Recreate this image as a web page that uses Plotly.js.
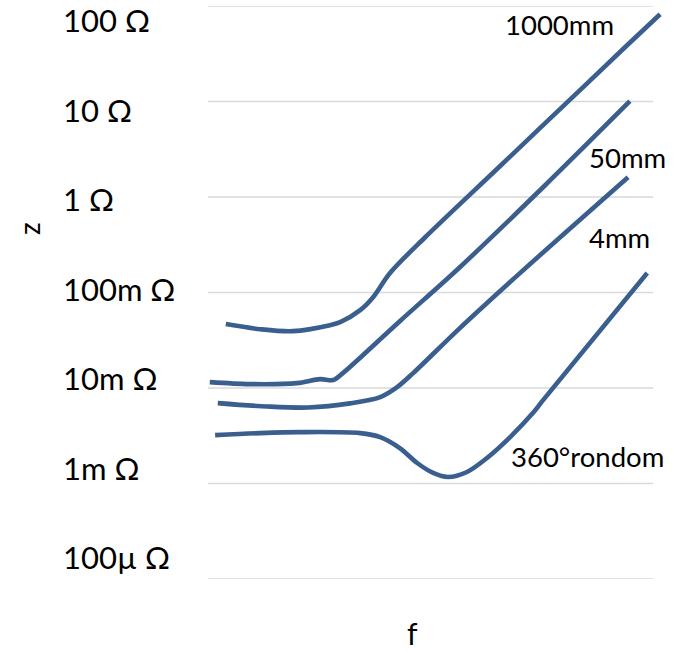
<!DOCTYPE html>
<html>
<head>
<meta charset="utf-8">
<script src="https://cdn.plot.ly/plotly-3.0.1.min.js"></script>
<style>html,body{margin:0;padding:0;background:#fff;}#chart{width:679px;height:654px;}</style>
</head>
<body>
<div id="chart"></div>
<script>
// Frequency (arbitrary units, axis has no ticks) and impedance in ohms
const f1000 = [4.0, 11.7, 19.1, 27.4, 29.7, 34.2, 37.1, 40.9, 48.8, 65.6, 85.2, 93.7, 101.6];
const z1000 = [0.0467, 0.0413, 0.0394, 0.0455, 0.0489, 0.0653, 0.0893, 0.160, 0.379, 2.10, 15.5, 37.0, 81.9];

const f50 = [0.4, 9.4, 20.0, 25.2, 28.1, 30.3, 43.1, 56.6, 75.7, 94.8];
const z50 = [0.01153, 0.01099, 0.01125, 0.01239, 0.01211, 0.01432, 0.0501, 0.184, 1.32, 10.07];

const f4 = [2.2, 13.3, 22.5, 31.9, 38.7, 42.5, 46.1, 56.6, 70.1, 94.4];
const z4 = [0.00695, 0.00640, 0.00625, 0.00690, 0.00803, 0.01021, 0.01432, 0.0424, 0.1595, 1.61];

const f360 = [1.6, 11.7, 20.7, 34.2, 38.7, 43.1, 47.0, 50.6, 53.9, 58.2, 62.7, 67.9, 73.0, 75.3, 98.7];
const z360 = [0.00321, 0.00337, 0.00345, 0.00337, 0.00306, 0.00235, 0.00164, 0.00129, 0.00117, 0.00132, 0.00185, 0.00306, 0.00546, 0.00746, 0.160];

const seriesNames = ["1000mm", "50mm", "4mm", "360°rondom"];
const tickVals = [100, 10, 1, 0.1, 0.01, 0.001, 0.0001];
const tickLabels = ["100 Ω", "10 Ω", "1 Ω", "100m Ω", "10m Ω", "1m Ω", "100µ Ω"];

const lineColor = '#3a5f8f';
const FONT = 'Lato, Carlito, "Open Sans", sans-serif';

function tr(x, y, name) {
  return {x: x, y: y, name: name, type: 'scatter', mode: 'lines',
    line: {color: lineColor, width: 4.6, shape: 'spline', smoothing: 0.9},
    hoverinfo: 'skip'};
}
const data = [
  tr(f1000, z1000, seriesNames[0]),
  tr(f50, z50, seriesNames[1]),
  tr(f4, z4, seriesNames[2]),
  tr(f360, z360, seriesNames[3])
];

const gridEnd = (653 - 208) / 457;
const shapes = tickVals.map(v => ({
  type: 'line', xref: 'paper', yref: 'y', x0: 0, x1: gridEnd, y0: v, y1: v,
  line: {color: '#d9d9d9', width: 1.5}, layer: 'below'
}));

const annotations = [];
tickLabels.forEach((t, i) => {
  annotations.push({text: t, xref: 'paper', yref: 'paper', x: (61 - 208) / 457,
    y: (579 - (20 + i * 89.5)) / 573, xanchor: 'left', yanchor: 'middle',
    showarrow: false, font: {family: FONT, size: 31, color: '#000'}});
});
const labelPos = [[503, 24], [587, 157], [587, 237], [509, 456]];
seriesNames.forEach((n, i) => {
  annotations.push({text: n, xref: 'paper', yref: 'paper',
    x: (labelPos[i][0] - 208) / 457, y: (579 - labelPos[i][1]) / 573,
    xanchor: 'left', yanchor: 'middle', showarrow: false,
    font: {family: FONT, size: 27.5, color: '#000'}});
});
annotations.push({text: 'z', xref: 'paper', yref: 'paper', x: (29 - 208) / 457,
  y: (579 - 229) / 573, xanchor: 'center', yanchor: 'middle', textangle: -90,
  showarrow: false, font: {family: FONT, size: 28, color: '#000'}});
annotations.push({text: 'f', xref: 'paper', yref: 'paper', x: (412 - 208) / 457,
  y: (579 - 653) / 573, xanchor: 'center', yanchor: 'bottom',
  showarrow: false, font: {family: FONT, size: 30, color: '#000'}});

const layout = {
  width: 679, height: 654,
  margin: {l: 208, r: 14, t: 6, b: 75, pad: 0},
  paper_bgcolor: '#fff', plot_bgcolor: '#fff',
  showlegend: false,
  xaxis: {range: [0, 457 / 4.45], showgrid: false, zeroline: false, showline: false,
    showticklabels: false, ticks: ''},
  yaxis: {type: 'log', range: [-4, 2], showgrid: false, zeroline: false, showline: false,
    showticklabels: false, ticks: ''},
  shapes: shapes,
  annotations: annotations
};

Plotly.newPlot('chart', data, layout, {displayModeBar: false, staticPlot: true});
</script>
</body>
</html>
